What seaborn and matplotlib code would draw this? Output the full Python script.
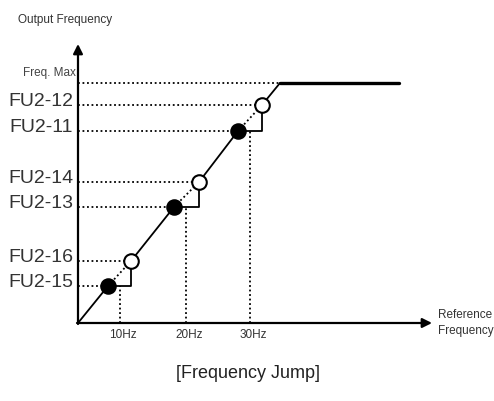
import matplotlib
matplotlib.use('Agg')
import matplotlib.pyplot as plt
import seaborn as sns
import pandas as pd

# ========== data (schematic units, origin at axis crossing) ==========
level_names = ['FU2-15', 'FU2-16', 'FU2-13', 'FU2-14', 'FU2-11', 'FU2-12']
level_values = [37, 62, 116, 141, 192, 218]
freq_max = 240

jump_low = [37, 116, 192]      # output where jump starts (filled dots)
jump_high = [62, 141, 218]     # output where jump ends (open dots)
low_x = [30, 96, 160]          # reference at filled dots
high_x = [53, 121, 184]        # reference at open dots
ref_ticks = [42, 108, 172]
ref_labels = ['10Hz', '20Hz', '30Hz']
max_x = [202, 321]             # start / end of flat max part

sns.set_style('white')
plt.rcParams['font.family'] = ['Liberation Sans', 'DejaVu Sans']

fig = plt.figure(figsize=(4.94, 4.01), dpi=100)
ax = fig.add_axes([0, 0, 1, 1])
ax.set_xlim(-78, 416)
ax.set_ylim(-78, 323)
ax.axis('off')

dot = (0, (1, 1.5))

# diagonal: solid between jumps, dotted inside jump bands
solid_x = [0] + high_x
solid_y = [0] + jump_high
solid_ex = low_x + [max_x[0]]
solid_ey = jump_low + [freq_max]
for x0, y0, x1, y1 in zip(solid_x, solid_y, solid_ex, solid_ey):
    seg = pd.DataFrame({'x': [x0, x1], 'y': [y0, y1]})
    sns.lineplot(data=seg, x='x', y='y', color='black', lw=1.3, ax=ax, sort=False)
for x0, y0, x1, y1 in zip(low_x, jump_low, high_x, jump_high):
    ax.plot([x0, x1], [y0, y1], color='black', lw=1.3, linestyle=dot)

# steps: flat at low level, then up to the open dot
for x0, y0, x1, y1 in zip(low_x, jump_low, high_x, jump_high):
    ax.plot([x0, x1, x1], [y0, y0, y1], color='black', lw=1.3)

# flat max
sns.lineplot(x=max_x, y=[freq_max, freq_max], color='black', lw=2.4, ax=ax)

# dotted guides
ax.plot([0, max_x[0]], [freq_max, freq_max], color='black', lw=1.3, linestyle=dot)
for i, v in enumerate(level_values):
    end = low_x[i // 2] if i % 2 == 0 else high_x[i // 2]
    ax.plot([0, end], [v, v], color='black', lw=1.3, linestyle=dot)
for t, v in zip(ref_ticks, jump_low):
    ax.plot([t, t], [0, v], color='black', lw=1.3, linestyle=dot)

# markers
pts = pd.DataFrame({'x': low_x + high_x, 'y': jump_low + jump_high,
                    'kind': ['low'] * 3 + ['high'] * 3})
sns.scatterplot(data=pts[pts.kind == 'low'], x='x', y='y', s=115, color='black',
                edgecolor='black', linewidth=1.2, ax=ax, zorder=5)
sns.scatterplot(data=pts[pts.kind == 'high'], x='x', y='y', s=110, color='white',
                edgecolor='black', linewidth=1.5, ax=ax, zorder=5)

# axes arrows
arrow = dict(arrowstyle='-|>', lw=1.6, color='black', mutation_scale=14, shrinkA=0, shrinkB=0)
ax.annotate('', xy=(0, 279), xytext=(0, -1), arrowprops=arrow)
ax.annotate('', xy=(354, 0), xytext=(-1, 0), arrowprops=arrow)

# texts
for name, v in zip(level_names, level_values):
    ax.text(-5, v - 1, name, ha='right', va='baseline', fontsize=14, color='#333333')
ax.text(-2, freq_max + 7, 'Freq. Max', ha='right', va='baseline', fontsize=8.5, color='#444444')
ax.text(-60, 303, 'Output Frequency', ha='left', va='center', fontsize=8.5, color='#333333')
for t, lab in zip(ref_ticks, ref_labels):
    ax.text(t + 3, -12, lab, ha='center', va='center', fontsize=8.5, color='#333333')
ax.text(360, 0, 'Reference\nFrequency', ha='left', va='center', fontsize=8.5,
        color='#333333', linespacing=1.5)
ax.text(170, -50, '[Frequency Jump]', ha='center', va='center', fontsize=13, color='#222222')

fig.savefig('out.png', dpi=100)
